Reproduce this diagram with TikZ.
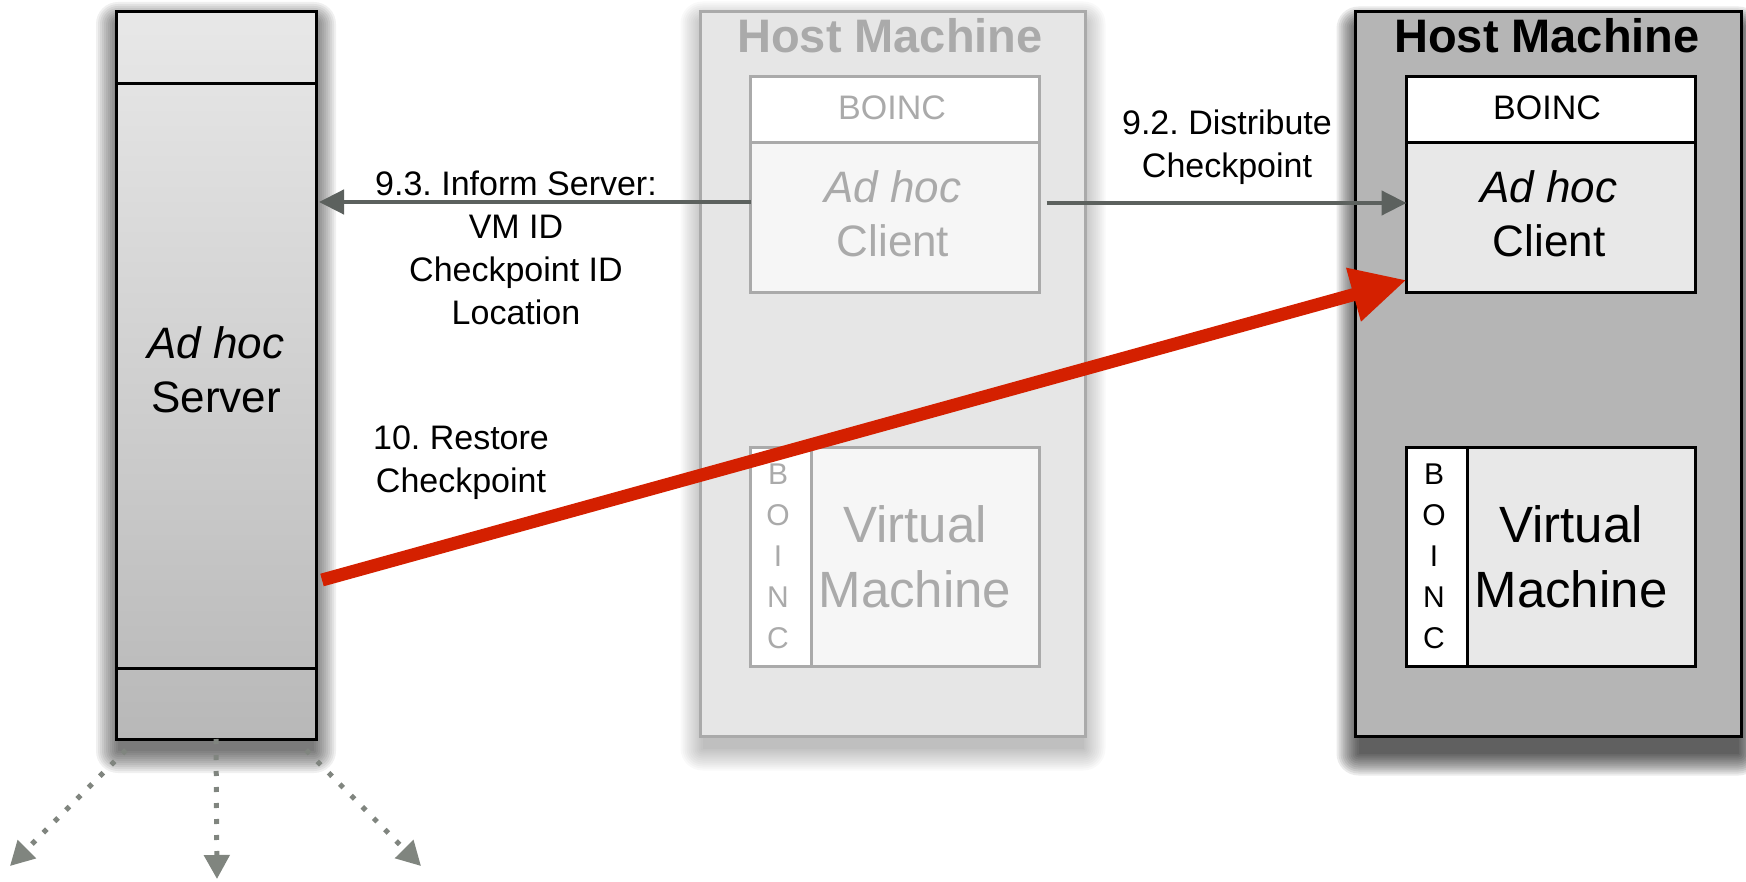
\documentclass[tikz,border=0pt]{standalone}
\usepackage{fontspec}
\setmainfont{Liberation Sans}
\usetikzlibrary{arrows.meta,calc}
\frenchspacing

\definecolor{fadegray}{HTML}{AAAAAA}
\definecolor{hostlight}{HTML}{E6E6E6}
\definecolor{innerlight}{HTML}{F6F6F6}
\definecolor{hostdark}{HTML}{B5B5B5}
\definecolor{innerdark}{HTML}{E8E8E8}
\definecolor{arrowgray}{HTML}{5C615E}
\definecolor{dotgray}{HTML}{80857F}
\definecolor{restorered}{HTML}{D42000}
\definecolor{srvtop}{HTML}{E8E8E8}
\definecolor{srvbot}{HTML}{B8B8B8}

\pgfdeclarelayer{shadowlayer}
\pgfsetlayers{shadowlayer,main}

% soft shadow under a node: #1 node, #2 downward offset, #3 side inset, #4 opacity of each ring
\newcommand{\softshadow}[4]{%
  \begin{pgfonlayer}{shadowlayer}
    \foreach \r in {22,20,...,0}{%
      \fill[black,opacity=#4,rounded corners=\r pt]
        ([shift={(-\r+#3,-\r+#2)}]#1.north west) rectangle ([shift={(\r-#3,\r+#2)}]#1.south east);
    }
  \end{pgfonlayer}}

\begin{document}
\begin{tikzpicture}[x=1pt,y=-1pt,
  every node/.style={inner sep=0pt,outer sep=0pt},
  frame/.style={line width=3pt},
  serverbox/.style={frame,draw=black,top color=srvtop,bottom color=srvbot},
  hostfaded/.style={frame,draw=fadegray,fill=hostlight},
  hostactive/.style={frame,draw=black,fill=hostdark},
  title/.style={font=\fontsize{47}{56}\selectfont\bfseries,anchor=base},
  boxtext/.style={font=\fontsize{44}{54}\selectfont,align=center,anchor=base},
  vmtext/.style={font=\fontsize{51}{65}\selectfont,align=center,anchor=base},
  boinctext/.style={font=\fontsize{34}{40}\selectfont,anchor=base},
  striptext/.style={font=\fontsize{30}{41}\selectfont,align=center,anchor=base},
  lbl/.style={font=\fontsize{34}{43}\selectfont,align=center,anchor=base},
  msg/.style={draw=arrowgray,line width=4.5pt,-{Triangle[length=25pt,width=24pt]}},
  restore/.style={draw=restorered,line width=13pt,-{Triangle[length=55pt,width=52pt]}},
  spread/.style={draw=dotgray,line width=5pt,dash pattern=on 5pt off 11pt,
    -{Triangle[length=24pt,width=25pt]}},
]
\useasboundingbox (0,0) rectangle (1746,882);

% ---- ad hoc server column ----
\node[serverbox,anchor=north west,minimum width=200pt,minimum height=727pt] (server) at (116,12) {};
\softshadow{server}{12}{2}{0.06}
\draw[frame] ([yshift=-72pt]server.north west) -- ([yshift=-72pt]server.north east);
\draw[frame] ([yshift=71pt]server.south west) -- ([yshift=71pt]server.south east);
\node[boxtext] (servertxt) at (216,413) {\textit{Ad hoc}\\Server};

% ---- faded host machine ----
\node[hostfaded,anchor=north west,minimum width=385pt,minimum height=725pt] (host1) at (700.5,11.5) {};
\softshadow{host1}{12}{2}{0.022}
\node[title,text=fadegray] (host1title) at (890,53) {Host Machine};

\node[fill=innerlight,anchor=north west,minimum width=289pt,minimum height=216pt] (cl1) at (750.5,76.5) {};
\fill[white] (cl1.north west) rectangle ([yshift=-66.5pt]cl1.north east);
\draw[frame,draw=fadegray] (cl1.north west) rectangle (cl1.south east);
\draw[frame,draw=fadegray] ([yshift=-66.5pt]cl1.north west) -- ([yshift=-66.5pt]cl1.north east);
\node[boinctext,text=fadegray] (cl1boinc) at (892,120) {BOINC};
\node[boxtext,text=fadegray] (cl1txt) at (893,257) {\textit{Ad hoc}\\Client};

\node[fill=innerlight,anchor=north west,minimum width=289pt,minimum height=218pt] (vm1) at (750.5,448) {};
\fill[white] (vm1.north west) rectangle ([xshift=60.5pt]vm1.south west);
\draw[frame,draw=fadegray] (vm1.north west) rectangle (vm1.south east);
\draw[frame,draw=fadegray] ([xshift=60.5pt]vm1.north west) -- ([xshift=60.5pt]vm1.south west);
\node[striptext,text=fadegray] (vm1boinc) at (778,648) {B\\O\\I\\N\\C};
\node[vmtext,text=fadegray] (vm1txt) at (915,607) {Virtual\\Machine};

% ---- active host machine ----
\node[hostactive,anchor=north west,minimum width=386pt,minimum height=725pt] (host2) at (1355.5,11.5) {};
\softshadow{host2}{17}{3}{0.08}
\node[title] (host2title) at (1547,53) {Host Machine};

\node[fill=innerdark,anchor=north west,minimum width=289pt,minimum height=216pt] (cl2) at (1406.5,76.5) {};
\fill[white] (cl2.north west) rectangle ([yshift=-66.5pt]cl2.north east);
\draw[frame] (cl2.north west) rectangle (cl2.south east);
\draw[frame] ([yshift=-66.5pt]cl2.north west) -- ([yshift=-66.5pt]cl2.north east);
\node[boinctext] (cl2boinc) at (1547,120) {BOINC};
\node[boxtext] (cl2txt) at (1549,257) {\textit{Ad hoc}\\Client};

\node[fill=innerdark,anchor=north west,minimum width=289pt,minimum height=218pt] (vm2) at (1406.5,448) {};
\fill[white] (vm2.north west) rectangle ([xshift=60.5pt]vm2.south west);
\draw[frame] (vm2.north west) rectangle (vm2.south east);
\draw[frame] ([xshift=60.5pt]vm2.north west) -- ([xshift=60.5pt]vm2.south west);
\node[striptext] (vm2boinc) at (1434,648) {B\\O\\I\\N\\C};
\node[vmtext] (vm2txt) at (1571,607) {Virtual\\Machine};

% ---- messages ----
\coordinate (y93) at (0,202);
\coordinate (y92) at (0,203);
\coordinate (yr0) at (0,580);
\coordinate (yr1) at (0,280);

\draw[msg,shorten >=3pt] (cl1.west |- y93) -- (server.east |- y93);
\node[lbl] (l93) at (516,325) {9.3. Inform Server:\\VM ID\\Checkpoint ID\\Location};

\draw[msg,shorten <=7pt] (cl1.east |- y92) -- (cl2.west |- y92);
\node[lbl] (l92) at (1227,178) {9.2. Distribute\\Checkpoint};

\draw[restore] ([xshift=6pt]server.east |- yr0) -- (cl2.west |- yr1);
\node[lbl] (l10) at (461,492) {10. Restore\\Checkpoint};

% ---- fan-out below the server ----
\coordinate (d1) at (10,866);
\coordinate (d2) at (217,879);
\coordinate (d3) at (421,866);
\draw[spread] ([shift={(10,11)}]server.south west) -- (d1);
\draw[spread] (server.south) -- (d2);
\draw[spread] ([shift={(-10,11)}]server.south east) -- (d3);
\end{tikzpicture}
\end{document}
